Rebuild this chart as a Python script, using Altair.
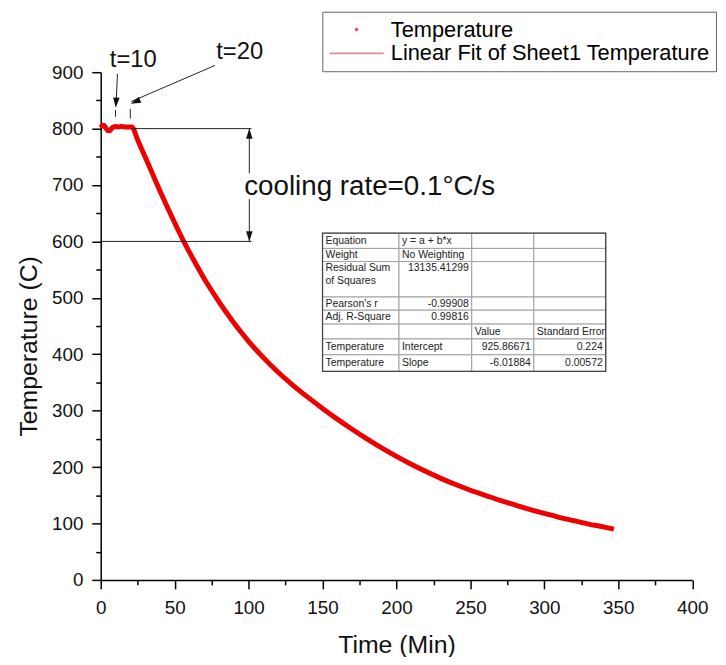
import altair as alt
import pandas as pd

# ---------------- data ----------------
TIME = [0, 1, 2, 3, 4, 5, 6, 7, 8, 9, 10, 12, 14, 16, 18, 20, 21,
        25, 30, 35, 40, 45, 50, 55, 60, 65, 70, 75, 80, 85, 90, 95, 100,
        110, 120, 130, 140, 150, 160, 170, 180, 190, 200, 210, 220, 230,
        240, 250, 260, 270, 280, 290, 300, 310, 320, 330, 340, 347]
TEMP = [802, 805, 806, 803, 799, 796, 796, 799, 802, 803, 804, 803, 804, 803, 803, 803, 803,
        780, 750, 720, 690, 661, 633, 606, 581, 557, 534, 513, 493, 474, 456, 439, 423,
        394, 368, 345, 324, 304, 285, 267, 250, 234, 219, 205, 192, 180,
        169, 159, 150, 141, 133, 125, 118, 111, 105, 99, 94, 90]

SERIES = ["Temperature", "Linear Fit of Sheet1 Temperature"]
SERIES_COLORS = ["#ee0000", "#d9576e"]

# annotation segments (data units)
SEG_X1 = [11.3, 77.3, 10, 20, 21, 0, 100.5, 100.5]
SEG_Y1 = [897, 912, 833, 835, 800, 600, 800, 675]
SEG_X2 = [10.4, 20.6, 10, 20, 102, 102, 100.5, 100.5]
SEG_Y2 = [842, 848, 821, 818, 800, 600, 721, 600]

HEAD_X = [10.2, 20.3, 100.5, 100.5]
HEAD_Y = [837, 844, 800, 600]
HEAD_ANGLE = [183, 246, 0, 180]

NOTE_TEXT = ["t=10", "t=20"]
NOTE_X = [22, 94]
NOTE_Y = [921, 935]
RATE_TEXT = ["cooling rate=0.1°C/s"]
RATE_X = [97]
RATE_Y = [696]

# fit-report table
TABLE_ROWS = [
    ["Equation", "y = a + b*x", "", ""],
    ["Weight", "No Weighting", "", ""],
    ["Residual Sum\nof Squares", "13135.41299", "", ""],
    ["Pearson's r", "-0.99908", "", ""],
    ["Adj. R-Square", "0.99816", "", ""],
    ["", "", "Value", "Standard Error"],
    ["Temperature", "Intercept", "925.86671", "0.224"],
    ["Temperature", "Slope", "-6.01884", "0.00572"],
]
COL_EDGES = [150, 201.7, 250.9, 292.9, 341.5]
ROW_EDGES = [614.7, 587.6, 564.3, 501.5, 478.1, 453.5, 427.1, 399.0, 369.7]

# ---------------- geometry ----------------
W, H = 596.5, 512
PX_X = W / 400.0
PX_Y = H / 900.0
FONT = "Liberation Sans"

xscale = alt.Scale(domain=[0, 400], nice=False, zero=False)
yscale = alt.Scale(domain=[0, 900], nice=False, zero=False)

xaxis = alt.Axis(
    values=list(range(0, 401, 25)),
    labelExpr="datum.value % 50 === 0 ? datum.label : ''",
    tickSize={"condition": {"test": "datum.value % 50 === 0", "value": 9}, "value": 5},
    title="Time (Min)", titleFont=FONT, titleFontSize=25, titleFontWeight="normal",
    titleColor="#111", titlePadding=15,
    labelFont=FONT, labelFontSize=19, labelColor="#111", labelPadding=10,
    labelOverlap=False, labelFlush=False,
    grid=False, domainColor="black", domainWidth=1.5, tickColor="black", tickWidth=1.5,
)
yaxis = alt.Axis(
    values=list(range(0, 901, 50)),
    labelExpr="datum.value % 100 === 0 ? datum.label : ''",
    tickSize={"condition": {"test": "datum.value % 100 === 0", "value": 9}, "value": 5},
    title="Temperature (C)", titleFont=FONT, titleFontSize=25, titleFontWeight="normal",
    titleColor="#111", titleX=-73, titleY=276, titleBaseline="middle", titleAlign="center",
    labelFont=FONT, labelFontSize=19, labelColor="#111", labelPadding=9,
    labelOverlap=False, labelFlush=False,
    grid=False, domainColor="black", domainWidth=1.5, tickColor="black", tickWidth=1.5,
)


def X(field):
    return alt.X(field, type="quantitative", scale=xscale, axis=xaxis)


def Y(field):
    return alt.Y(field, type="quantitative", scale=yscale, axis=yaxis)


curve = pd.DataFrame({"time": TIME, "temp": TEMP, "series": "Temperature"})

legend = alt.Legend(
    title=None, orient="none", legendX=223.5, legendY=-61, direction="vertical",
    labelFont=FONT, labelFontSize=22, labelColor="black", labelLimit=0, labelOffset=6,
    symbolSize=3000, symbolStrokeWidth=1.8, clipHeight=24, rowPadding=0, padding=6,
    strokeColor="#666", fillColor="white",
)
DOT = "M-0.03,0A0.03,0.03,0,1,0,0.03,0A0.03,0.03,0,1,0,-0.03,0Z"
LINE = "M-1,0L1,0"

legend_pts = alt.Chart(curve).mark_point(filled=False, strokeWidth=1.8, size=30).encode(
    x=X("time"), y=Y("temp"),
    color=alt.Color("series:N", scale=alt.Scale(domain=SERIES, range=SERIES_COLORS), legend=legend),
    shape=alt.Shape("series:N", scale=alt.Scale(domain=SERIES, range=[DOT, LINE]), legend=legend),
)

line = alt.Chart(curve).mark_line(color="#ee0000", strokeWidth=5, interpolate="monotone").encode(
    x=X("time"), y=Y("temp"),
)

segs = pd.DataFrame({"time": SEG_X1, "temp": SEG_Y1, "time2": SEG_X2, "temp2": SEG_Y2})
seg_layer = alt.Chart(segs).mark_rule(color="#222", strokeWidth=1).encode(
    x=X("time"), y=Y("temp"), x2="time2", y2="temp2",
)

heads = pd.DataFrame({"time": HEAD_X, "temp": HEAD_Y, "ang": HEAD_ANGLE})
head_layer = alt.Chart(heads).mark_point(
    shape="M0,0L0.32,1L-0.32,1Z", filled=True, color="#111", size=420, opacity=1, strokeWidth=0
).encode(
    x=X("time"), y=Y("temp"), angle=alt.Angle("ang:Q", scale=None),
)

notes = pd.DataFrame({"time": NOTE_X, "temp": NOTE_Y, "label": NOTE_TEXT})
note_layer = alt.Chart(notes).mark_text(
    font=FONT, fontSize=24, color="#111", align="center", baseline="middle"
).encode(x=X("time"), y=Y("temp"), text="label:N")

rate = pd.DataFrame({"time": RATE_X, "temp": RATE_Y, "label": RATE_TEXT})
rate_layer = alt.Chart(rate).mark_text(
    font=FONT, fontSize=28, color="#111", align="left", baseline="middle"
).encode(x=X("time"), y=Y("temp"), text="label:N")

# ---- table ----
cells = []
texts_l = []
texts_r = []
pad = 3 / PX_X
for r, row in enumerate(TABLE_ROWS):
    top, bot = ROW_EDGES[r], ROW_EDGES[r + 1]
    for c, s in enumerate(row):
        left, right = COL_EDGES[c], COL_EDGES[c + 1]
        cells.append({"time": left, "time2": right, "temp": top, "temp2": bot})
        if not s:
            continue
        lines = s.split("\n")
        tall = (top - bot) * PX_Y > 25
        for i, ln in enumerate(lines):
            if tall:
                yv = top - (7 + 13 * i) / PX_Y
            else:
                yv = (top + bot) / 2
            try:
                float(ln)
                texts_r.append({"time": right - pad, "temp": yv, "label": ln})
            except ValueError:
                texts_l.append({"time": left + pad, "temp": yv, "label": ln})

cell_layer = alt.Chart(pd.DataFrame(cells)).mark_rect(
    fill="white", stroke="#a0a0a0", strokeWidth=1
).encode(x=X("time"), x2="time2", y=Y("temp"), y2="temp2")

frame = pd.DataFrame({"time": [COL_EDGES[0]], "time2": [COL_EDGES[-1]],
                      "temp": [ROW_EDGES[0]], "temp2": [ROW_EDGES[-1]]})
frame_layer = alt.Chart(frame).mark_rect(
    fill=None, fillOpacity=0, stroke="#444", strokeWidth=1.3
).encode(x=X("time"), x2="time2", y=Y("temp"), y2="temp2")

tl_layer = alt.Chart(pd.DataFrame(texts_l)).mark_text(
    font=FONT, fontSize=10.5, color="#222", align="left", baseline="middle"
).encode(x=X("time"), y=Y("temp"), text="label:N")
tr_layer = alt.Chart(pd.DataFrame(texts_r)).mark_text(
    font=FONT, fontSize=10.5, color="#222", align="right", baseline="middle"
).encode(x=X("time"), y=Y("temp"), text="label:N")

chart = alt.layer(
    legend_pts, line, seg_layer, head_layer, note_layer, rate_layer,
    cell_layer, frame_layer, tl_layer, tr_layer,
).properties(
    width=W, height=H,
    autosize=alt.AutoSizeParams(type="none"),
    padding={"left": 93.5, "top": 62, "right": 26, "bottom": 75},
    background="white",
).configure_view(stroke=None)

chart.save("out.html", embed_options={"renderer": "svg", "actions": False})
